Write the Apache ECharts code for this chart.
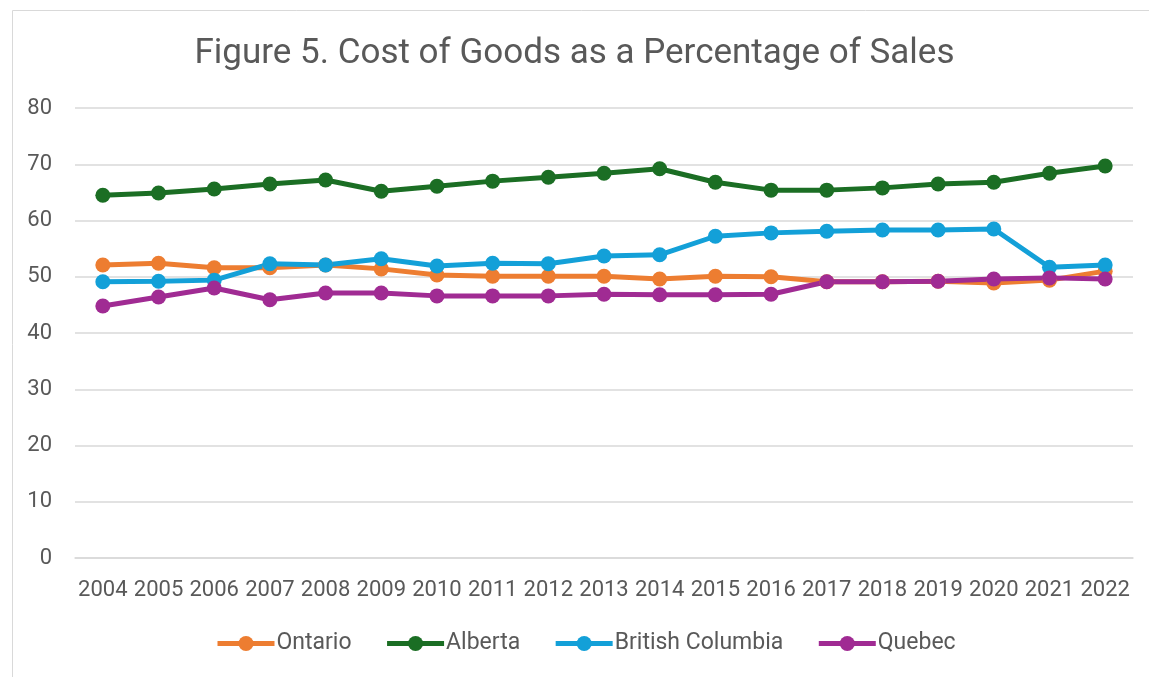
<!DOCTYPE html>
<html><head><meta charset="utf-8">
<script src="https://cdn.jsdelivr.net/npm/echarts@6/dist/echarts.min.js"></script>
<style>html,body{margin:0;padding:0;background:#fff}#c{width:1149px;height:677px}</style>
</head><body><div id="c"></div>
<script>
const years = ['2004','2005','2006','2007','2008','2009','2010','2011','2012','2013','2014','2015','2016','2017','2018','2019','2020','2021','2022'];
const ontario = [52.1,52.4,51.6,51.6,52.1,51.4,50.3,50.1,50.1,50.1,49.6,50.1,50.0,49.1,49.1,49.2,48.9,49.4,51.0];
const alberta = [64.5,64.9,65.6,66.5,67.2,65.2,66.1,67.0,67.7,68.4,69.2,66.8,65.4,65.4,65.8,66.5,66.8,68.4,69.7];
const bc = [49.1,49.2,49.4,52.3,52.1,53.2,51.9,52.4,52.3,53.7,53.9,57.2,57.8,58.1,58.3,58.3,58.5,51.7,52.1];
const quebec = [44.8,46.4,48.0,45.9,47.1,47.1,46.6,46.6,46.6,46.9,46.8,46.8,46.9,49.1,49.1,49.2,49.6,49.8,49.6];
const seriesNames = ['Ontario','Alberta','British Columbia','Quebec'];
const colors = ['#ED7D31','#1B6E24','#13A0D8','#A02B93'];
const FONT = 'Roboto, sans-serif';
const chart = echarts.init(document.getElementById('c'));
const data = [ontario, alberta, bc, quebec];
chart.setOption({
  animation:false,
  color: colors,
  title:{text:'Figure 5. Cost of Goods as a Percentage of Sales',left:'center',top:32,
    textStyle:{fontFamily:FONT,fontSize:35,fontWeight:'normal',color:'#595959'}},
  graphic:[{type:'rect',shape:{x:12.5,y:10.5,width:1140,height:670},style:{fill:'none',stroke:'#d9d9d9',lineWidth:1}}],
  legend:{top:627,left:210,itemWidth:57,itemHeight:19,itemGap:33,
    lineStyle:{width:5},
    textStyle:{fontFamily:FONT,fontSize:23,color:'#595959',padding:[0,0,0,-3]},
    data:seriesNames},
  grid:{left:75,right:16,top:108,bottom:119,containLabel:false},
  xAxis:{type:'category',data:years,boundaryGap:true,
    axisLine:{show:true,lineStyle:{color:'#d9d9d9',width:1.5}},axisTick:{show:false},
    axisLabel:{interval:0,fontFamily:FONT,fontSize:22,color:'#595959',margin:21}},
  yAxis:{type:'value',min:0,max:80,interval:10,
    axisLine:{show:false},axisTick:{show:false},
    splitLine:{lineStyle:{color:'#d9d9d9',width:1.5}},
    axisLabel:{fontFamily:FONT,fontSize:22,color:'#595959',margin:23}},
  series: seriesNames.map((n,i)=>({name:n,type:'line',data:data[i],symbol:'circle',symbolSize:15,
    lineStyle:{width:5,color:colors[i]},itemStyle:{color:colors[i]}}))
});
</script></body></html>
